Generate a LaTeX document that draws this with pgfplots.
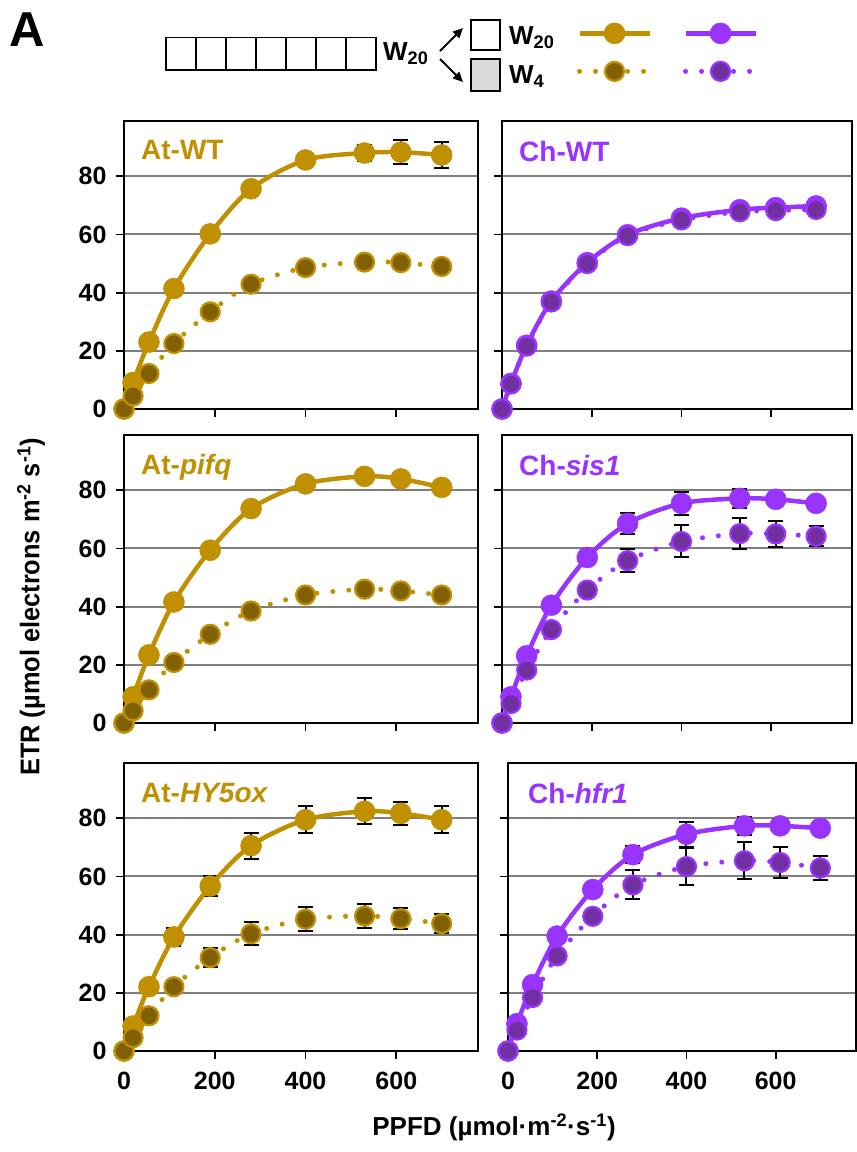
\documentclass[border=0pt]{standalone}
\usepackage{fontspec}
\setmainfont{Liberation Sans}
\usepackage{pgfplots}
\usepackage{pgfplotstable}
\pgfplotsset{compat=1.18}
\usetikzlibrary{arrows.meta}

\definecolor{gold}{HTML}{C09000}
\definecolor{golddk}{HTML}{806000}
\definecolor{purp}{HTML}{9933FF}
\definecolor{purpdk}{HTML}{7030A0}
\definecolor{gridc}{HTML}{7F7F7F}

% x  ys (W20 solid)  es   yd (W4 dotted)  ed
\pgfplotstableread{
x ys es yd ed
0 0 0 0 0
20 9.1 0.8 4.5 0.5
55 23.0 1.0 12.2 0.8
110 41.4 1.0 22.5 1.0
190 60.2 1.2 33.4 1.2
280 75.7 1.5 42.9 1.2
400 85.6 2.4 48.6 1.5
530 88.0 2.7 50.5 1.5
610 88.3 4.0 50.3 1.5
700 87.3 4.6 49.0 1.2
}\atwt
\pgfplotstableread{
x ys es yd ed
0 0 0 0 0
20 8.8 0.5 8.6 0.5
55 21.9 0.8 21.6 0.8
110 37.1 1.0 36.8 1.0
190 50.3 1.2 50.0 1.5
280 59.9 1.5 59.6 1.5
400 65.6 1.5 65.0 1.8
530 68.5 2.0 67.8 2.2
610 69.2 2.0 68.2 2.0
700 69.8 2.0 68.6 2.0
}\chwt
\pgfplotstableread{
x ys es yd ed
0 0 0 0 0
20 9.0 0.5 4.2 0.5
55 23.4 0.8 11.4 0.6
110 41.6 0.8 20.8 0.8
190 59.4 1.0 30.5 1.5
280 73.7 1.0 38.5 1.2
400 82.2 1.5 44.0 1.0
530 84.8 1.2 46.0 1.2
610 83.9 1.2 45.4 1.0
700 81.0 1.0 44.0 1.0
}\atpifq
\pgfplotstableread{
x ys es yd ed
0 0 0 0 0
20 9.0 0.8 6.7 0.8
55 23.1 1.0 18.2 1.0
110 40.5 1.2 32.1 1.2
190 56.9 1.5 45.7 1.5
280 68.6 3.6 55.8 3.9
400 75.5 4.0 62.4 5.5
530 77.2 3.2 65.1 5.3
610 76.9 2.0 65.0 4.5
700 75.5 1.0 64.2 3.4
}\chsis
\pgfplotstableread{
x ys es yd ed
0 0 0 0 0
20 8.6 1.0 4.6 0.8
55 22.1 1.5 12.1 1.0
110 39.2 3.1 22.1 2.3
190 56.7 3.5 32.1 3.3
280 70.6 4.5 40.3 4.0
400 79.5 4.6 45.3 4.1
530 82.4 4.5 46.4 4.0
610 81.7 4.0 45.5 3.6
700 79.5 4.6 43.8 3.3
}\athy
\pgfplotstableread{
x ys es yd ed
0 0 0 0 0
20 9.4 1.0 7.2 1.0
55 22.8 1.2 18.4 1.2
110 39.5 1.5 32.7 1.5
190 55.5 2.0 46.3 1.5
280 67.5 3.0 57.1 5.0
400 74.5 4.2 63.4 6.3
530 77.4 3.0 65.4 6.3
610 77.4 1.5 64.8 5.3
700 76.6 1.0 62.9 4.1
}\chhfr

\newcommand{\tickfont}{\bfseries\fontsize{25}{30}\selectfont}
\newcommand{\panfont}{\bfseries\fontsize{28}{32}\selectfont}

\pgfplotsset{
  panel/.style={
    scale only axis, width=354pt, height=288pt,
    xmin=0, xmax=780, ymin=0, ymax=99,
    clip=false,
    axis line style={black, line width=1.8pt},
    xtick={0,200,400,600}, ytick={0,20,40,60,80},
    xtick pos=left, ytick pos=left,
    tick align=outside, major tick length=8pt,
    tick style={black, line width=1.8pt},
    ymajorgrids, major grid style={gridc, line width=2pt},
    ticklabel style={font=\tickfont},
    /pgf/number format/assume math mode=true,
    yticklabel style={xshift=-6pt},
    xticklabel style={yshift=-9pt},
  },
  nox/.style={xticklabels={}},
  noy/.style={yticklabels={}},
  errs/.style={
    draw=none, mark=none, forget plot,
    error bars/.cd, y dir=both, y explicit,
    error bar style={black, solid, line width=2pt},
    error mark options={black, solid, rotate=90, mark size=7.5pt, line width=2pt},
  },
  solidS/.style={color=#1, line width=4.5pt, smooth, mark=*, mark size=10.5pt,
    mark options={solid, fill=#1, draw=#1, line width=0.5pt}},
  dotS/.style n args={2}{color=#1, line width=5pt, smooth, line cap=round,
    dash pattern=on 0pt off 16pt,
    mark=*, mark size=9.5pt, mark options={solid, fill=#2, draw=#1, line width=2.2pt}},
}

\newcommand{\panelplots}[3]{%
  \addplot[errs] table[x=x, y=ys, y error=es]{#1};
  \addplot[errs] table[x=x, y=yd, y error=ed]{#1};
  \addplot[solidS=#2] table[x=x, y=ys]{#1};
  \addplot[dotS={#2}{#3}] table[x=x, y=yd]{#1};
}

\begin{document}
\begin{tikzpicture}[x=1pt,y=1pt]
\useasboundingbox (0,0) rectangle (857,-1152);

% ---- header ----
\node[anchor=north west, inner sep=0pt, font=\bfseries\fontsize{49}{54}\selectfont] at (9,-13) {A};
\draw[line width=1.5pt] (166,-37.5) rectangle (376,-70);
\foreach \i in {1,...,6} \draw[line width=1.5pt] ({166+30*\i},-37.5) -- ({166+30*\i},-70);
\node[anchor=west, inner sep=0pt, font=\bfseries\fontsize{26}{30}\selectfont] at (383,-54) {W\textsubscript{20}};
\draw[line width=2pt, -{Triangle[length=10pt,width=9pt]}] (440,-51) -- (463,-28);
\draw[line width=2pt, -{Triangle[length=10pt,width=9pt]}] (440,-59) -- (463,-82);
\draw[line width=1.5pt] (471,-20) rectangle (500,-50);
\draw[line width=1.5pt, fill=black!15] (471,-59) rectangle (500,-91);
\node[anchor=west, inner sep=0pt, font=\bfseries\fontsize{26}{30}\selectfont] at (509,-38) {W\textsubscript{20}};
\node[anchor=west, inner sep=0pt, font=\bfseries\fontsize{26}{30}\selectfont] at (509,-77) {W\textsubscript{4}};

% ---- axis titles ----
\node[rotate=90, font=\bfseries\fontsize{27}{30}\selectfont] at (31,-607) {\scalebox{0.94}[1]{ETR (µmol electrons m\textsuperscript{-2} s\textsuperscript{-1})}};
\node[font=\bfseries\fontsize{26}{30}\selectfont] at (494,-1127) {PPFD (µmol·m\textsuperscript{-2}·s\textsuperscript{-1})};

% ---- At-WT ----
\begin{axis}[panel, nox, at={(124pt,-121pt)}, anchor=north west,
  legend style={at={(rel axis cs:1.558,1.24)}, anchor=center, draw=none, fill=none,
    legend columns=2, column sep=15pt, row sep=18pt, nodes={inner sep=0pt}},
  legend image code/.code={\draw[mark repeat=2, mark phase=2] plot coordinates {(0pt,0pt)(35pt,0pt)(70pt,0pt)};}]
\addlegendimage{solidS=gold, sharp plot}\addlegendentry{}
\addlegendimage{solidS=purp, sharp plot}\addlegendentry{}
\addlegendimage{dotS={gold}{golddk}, sharp plot}\addlegendentry{}
\addlegendimage{dotS={purp}{purpdk}, sharp plot}\addlegendentry{}
\panelplots{\atwt}{gold}{golddk}
\node[anchor=north west, inner sep=0pt, text=gold, font=\panfont] at (rel axis cs:0,1) [xshift=17pt, yshift=-19pt] {At-WT};
\end{axis}

% ---- Ch-WT ----
\begin{axis}[panel, nox, noy, width=350pt, at={(502pt,-121pt)}, anchor=north west]
\panelplots{\chwt}{purp}{purpdk}
\node[anchor=north west, inner sep=0pt, text=purp, font=\panfont] at (rel axis cs:0,1) [xshift=17pt, yshift=-20pt] {Ch-WT};
\end{axis}

% ---- At-pifq ----
\begin{axis}[panel, nox, at={(124pt,-435pt)}, anchor=north west]
\panelplots{\atpifq}{gold}{golddk}
\node[anchor=north west, inner sep=0pt, text=gold, font=\panfont] at (rel axis cs:0,1) [xshift=17pt, yshift=-19pt] {At-\textit{pifq}};
\end{axis}

% ---- Ch-sis1 ----
\begin{axis}[panel, nox, noy, width=350pt, at={(502pt,-435pt)}, anchor=north west]
\panelplots{\chsis}{purp}{purpdk}
\node[anchor=north west, inner sep=0pt, text=purp, font=\panfont] at (rel axis cs:0,1) [xshift=17pt, yshift=-20pt] {Ch-\textit{sis1}};
\end{axis}

% ---- At-HY5ox ----
\begin{axis}[panel, at={(124pt,-763pt)}, anchor=north west]
\panelplots{\athy}{gold}{golddk}
\node[anchor=north west, inner sep=0pt, text=gold, font=\panfont] at (rel axis cs:0,1) [xshift=17pt, yshift=-20pt] {At-\textit{HY5ox}};
\end{axis}

% ---- Ch-hfr1 ----
\begin{axis}[panel, noy, width=348pt, at={(508pt,-763pt)}, anchor=north west]
\panelplots{\chhfr}{purp}{purpdk}
\node[anchor=north west, inner sep=0pt, text=purp, font=\panfont] at (rel axis cs:0,1) [xshift=20pt, yshift=-20pt] {Ch-\textit{hfr1}};
\end{axis}

\end{tikzpicture}
\end{document}
